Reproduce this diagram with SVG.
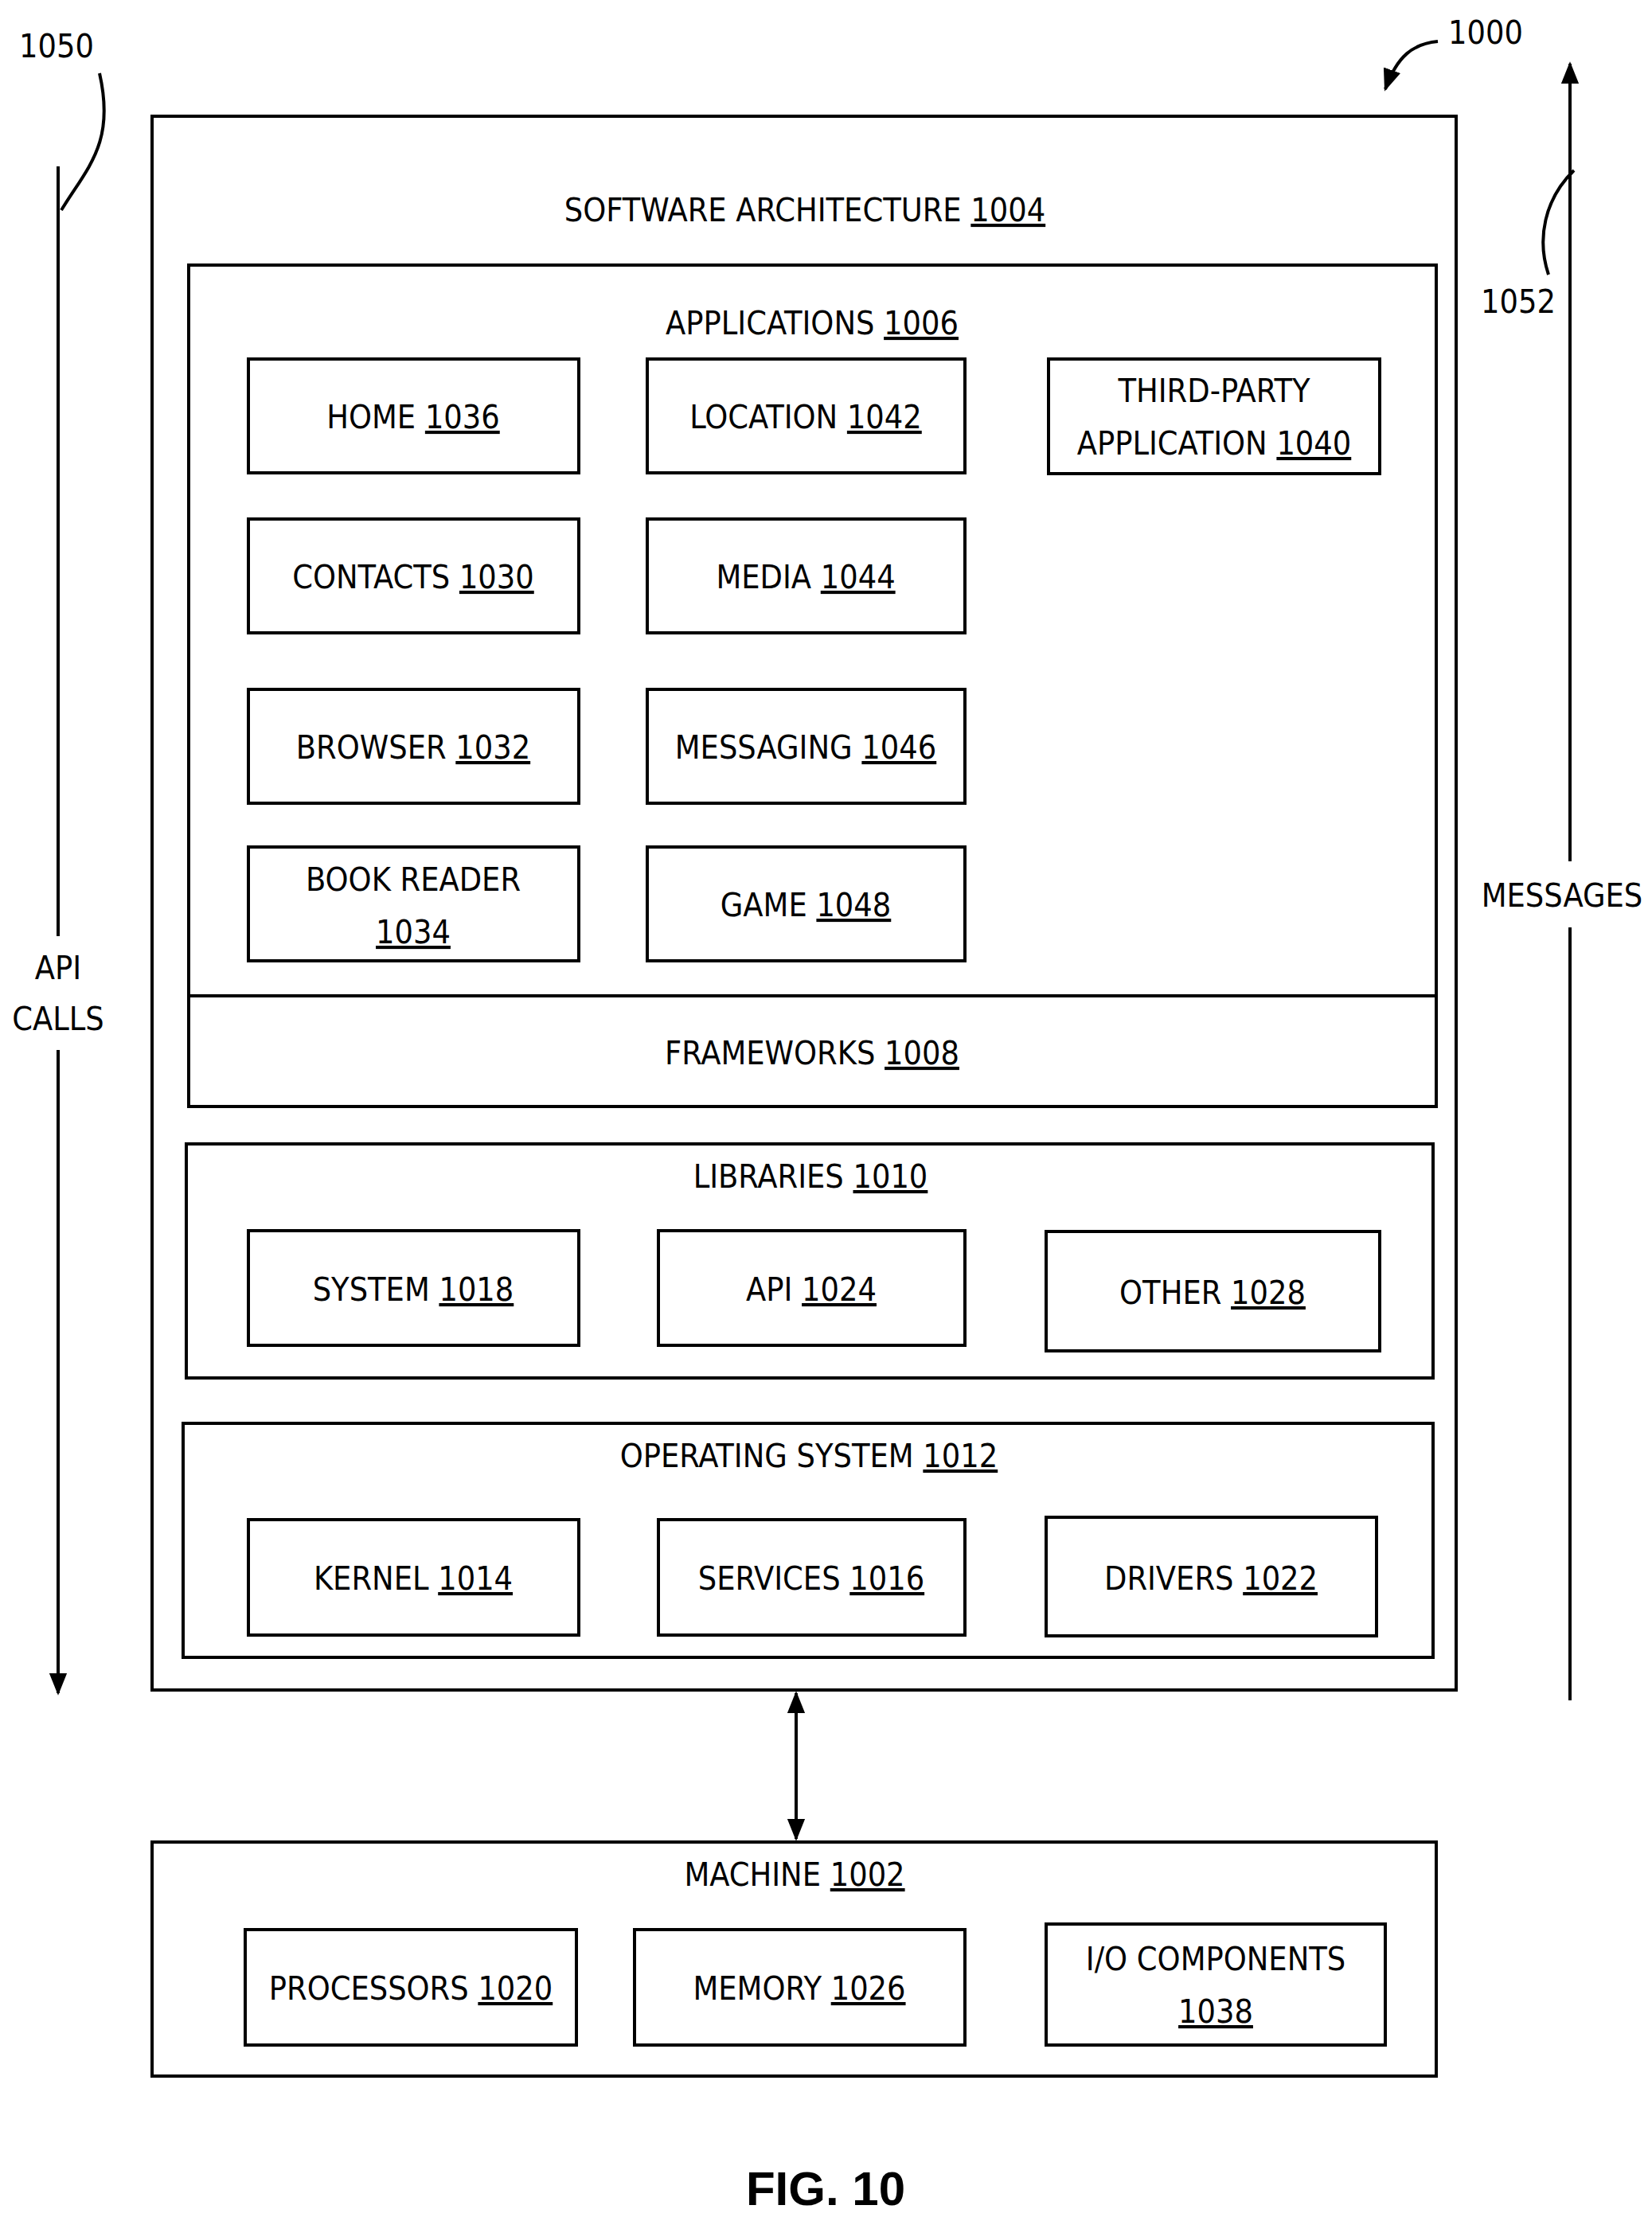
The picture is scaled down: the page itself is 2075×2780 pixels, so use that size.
<svg xmlns="http://www.w3.org/2000/svg" width="2075" height="2780" viewBox="0 0 2075 2780">
<style>
rect{fill:none;stroke:#000;stroke-width:4}
text{font-family:"DejaVu Sans Condensed","DejaVu Sans",sans-serif;font-size:41px;text-anchor:middle;fill:#000;font-weight:300}
.u{text-decoration:underline}
.c{fill:none;stroke:#000;stroke-width:4}
</style>
<defs>
<marker id="b" viewBox="0 0 10 10" refX="9" refY="5" markerWidth="28" markerHeight="28" orient="auto-start-reverse" markerUnits="userSpaceOnUse"><path d="M0,1 L10,5 L0,9 z"/></marker>
</defs>
<g id="sw"><rect x="191" y="146" width="1638" height="1977"/><text x="1011" y="278">SOFTWARE ARCHITECTURE <tspan class="u">1004</tspan></text></g>
<g id="apps"><rect x="237" y="333" width="1567" height="1057"/><line x1="237" y1="1251" x2="1804" y2="1251" stroke="#000" stroke-width="4"/><text x="1020" y="420">APPLICATIONS <tspan class="u">1006</tspan></text></g>
<g id="fw"><text x="1020" y="1337">FRAMEWORKS <tspan class="u">1008</tspan></text></g>
<g id="home"><rect x="312" y="451" width="415" height="143"/><text x="519" y="538">HOME <tspan class="u">1036</tspan></text></g>
<g id="loc"><rect x="813" y="451" width="399" height="143"/><text x="1012" y="538">LOCATION <tspan class="u">1042</tspan></text></g>
<g id="tp"><rect x="1317" y="451" width="416" height="144"/><text x="1525" y="505">THIRD-PARTY</text><text x="1525" y="571">APPLICATION <tspan class="u">1040</tspan></text></g>
<g id="contacts"><rect x="312" y="652" width="415" height="143"/><text x="519" y="739">CONTACTS <tspan class="u">1030</tspan></text></g>
<g id="media"><rect x="813" y="652" width="399" height="143"/><text x="1012" y="739">MEDIA <tspan class="u">1044</tspan></text></g>
<g id="browser"><rect x="312" y="866" width="415" height="143"/><text x="519" y="953">BROWSER <tspan class="u">1032</tspan></text></g>
<g id="msg"><rect x="813" y="866" width="399" height="143"/><text x="1012" y="953">MESSAGING <tspan class="u">1046</tspan></text></g>
<g id="book"><rect x="312" y="1064" width="415" height="143"/><text x="519" y="1119">BOOK READER</text><text x="519" y="1185" class="u">1034</text></g>
<g id="game"><rect x="813" y="1064" width="399" height="143"/><text x="1012" y="1151">GAME <tspan class="u">1048</tspan></text></g>
<g id="libs"><rect x="234" y="1437" width="1566" height="294"/><text x="1018" y="1492">LIBRARIES <tspan class="u">1010</tspan></text></g>
<g id="sys"><rect x="312" y="1546" width="415" height="144"/><text x="519" y="1634">SYSTEM <tspan class="u">1018</tspan></text></g>
<g id="api"><rect x="827" y="1546" width="385" height="144"/><text x="1019" y="1634">API <tspan class="u">1024</tspan></text></g>
<g id="other"><rect x="1314" y="1547" width="419" height="150"/><text x="1523" y="1638">OTHER <tspan class="u">1028</tspan></text></g>
<g id="os"><rect x="230" y="1788" width="1570" height="294"/><text x="1016" y="1843">OPERATING SYSTEM <tspan class="u">1012</tspan></text></g>
<g id="kernel"><rect x="312" y="1909" width="415" height="145"/><text x="519" y="1997">KERNEL <tspan class="u">1014</tspan></text></g>
<g id="services"><rect x="827" y="1909" width="385" height="145"/><text x="1019" y="1997">SERVICES <tspan class="u">1016</tspan></text></g>
<g id="drivers"><rect x="1314" y="1906" width="415" height="149"/><text x="1521" y="1997">DRIVERS <tspan class="u">1022</tspan></text></g>
<g id="machine"><rect x="191" y="2314" width="1613" height="294"/><text x="998" y="2369">MACHINE <tspan class="u">1002</tspan></text></g>
<g id="proc"><rect x="308" y="2424" width="416" height="145"/><text x="516" y="2512">PROCESSORS <tspan class="u">1020</tspan></text></g>
<g id="mem"><rect x="797" y="2424" width="415" height="145"/><text x="1004" y="2512">MEMORY <tspan class="u">1026</tspan></text></g>
<g id="io"><rect x="1314" y="2417" width="426" height="152"/><text x="1527" y="2475">I/O COMPONENTS</text><text x="1527" y="2541" class="u">1038</text></g>
<g id="labels">
<text x="73" y="1230">API</text><text x="73" y="1294">CALLS</text>
<text x="1962" y="1139">MESSAGES</text>
<text x="71" y="72">1050</text><text x="1907" y="393">1052</text><text x="1866" y="55">1000</text>
<text x="1037" y="2770" style="font-family:'Liberation Sans',sans-serif;font-weight:bold;font-size:60px">FIG. 10</text>
</g>
<g id="connectors">
<line class="c" x1="1000" y1="2127" x2="1000" y2="2310" marker-start="url(#b)" marker-end="url(#b)"/>
<line class="c" x1="73" y1="209" x2="73" y2="1176"/>
<line class="c" x1="73" y1="1319" x2="73" y2="2127" marker-end="url(#b)"/>
<line class="c" x1="1972" y1="2136" x2="1972" y2="1165"/>
<line class="c" x1="1972" y1="1082" x2="1972" y2="80" marker-end="url(#b)"/>
<path class="c" d="M77,264 C110,210 145,180 125,92"/>
<path class="c" d="M1977,214 C1940,250 1930,300 1945,345"/>
<path class="c" d="M1806,52 C1775,55 1755,70 1740,112" marker-end="url(#b)"/>
</g>
</svg>
